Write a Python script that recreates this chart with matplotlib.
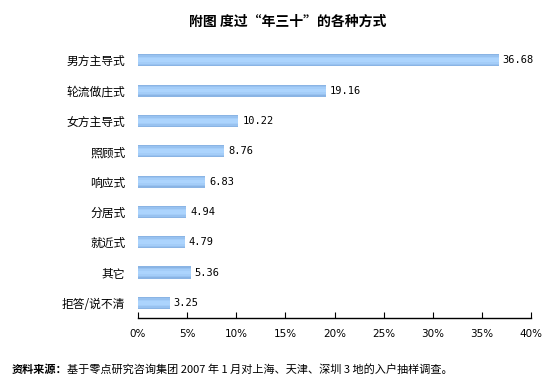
import matplotlib.pyplot as plt
import numpy as np

plt.rcParams['font.family'] = ['Noto Sans CJK SC', 'DejaVu Sans']

categories = ["男方主导式", "轮流做庄式", "女方主导式", "照顾式", "响应式",
              "分居式", "就近式", "其它", "拒答/说不清"]
values = [36.68, 19.16, 10.22, 8.76, 6.83, 4.94, 4.79, 5.36, 3.25]
xticks = [0, 5, 10, 15, 20, 25, 30, 35, 40]

fig = plt.figure(figsize=(5.58, 3.89), dpi=100)
ax = fig.add_axes([0.247, 0.1825, 0.705, 0.7015])

y = np.arange(len(categories))
# fake vertical gradient: stacked bars of decreasing height, lighter toward the middle
ax.barh(y, values, height=0.40, color='#8ab4e4', linewidth=0)
ax.barh(y, values, height=0.32, color='#98c2f0', linewidth=0)
ax.barh(y, values, height=0.22, color='#a4cdf8', linewidth=0)
ax.barh(y, values, height=0.12, color='#acd4fd', linewidth=0)

for yi, v in zip(y, values):
    ax.text(v + 0.4, yi, f"{v:.2f}", va='center', ha='left', fontsize=7.5,
            family='DejaVu Sans Mono')

ax.set_ylim(len(categories) - 0.5, -0.5)
ax.set_xlim(0, 40)
ax.set_yticks(y)
ax.set_yticklabels(categories, fontsize=8.5)
ax.tick_params(axis='y', length=0, pad=9)
ax.set_xticks(xticks)
ax.set_xticklabels([f"{t}%" for t in xticks], fontsize=7.5, family='DejaVu Sans')
ax.tick_params(axis='x', direction='in', length=4, pad=8, color='black')

for s in ['top', 'right', 'left']:
    ax.spines[s].set_visible(False)
ax.spines['bottom'].set_color('black')
ax.spines['bottom'].set_linewidth(1)

fig.text(0.515, 0.945, "附图 度过“年三十”的各种方式", ha='center', va='center',
         fontsize=10, fontweight='bold')
fig.text(0.02, 0.05, "资料来源：", ha='left', va='center', fontsize=8, fontweight='bold')
fig.text(0.12, 0.05, "基于零点研究咨询集团 2007 年 1 月对上海、天津、深圳 3 地的入户抽样调查。",
         ha='left', va='center', fontsize=8)

fig.savefig("out.png", dpi=100)
